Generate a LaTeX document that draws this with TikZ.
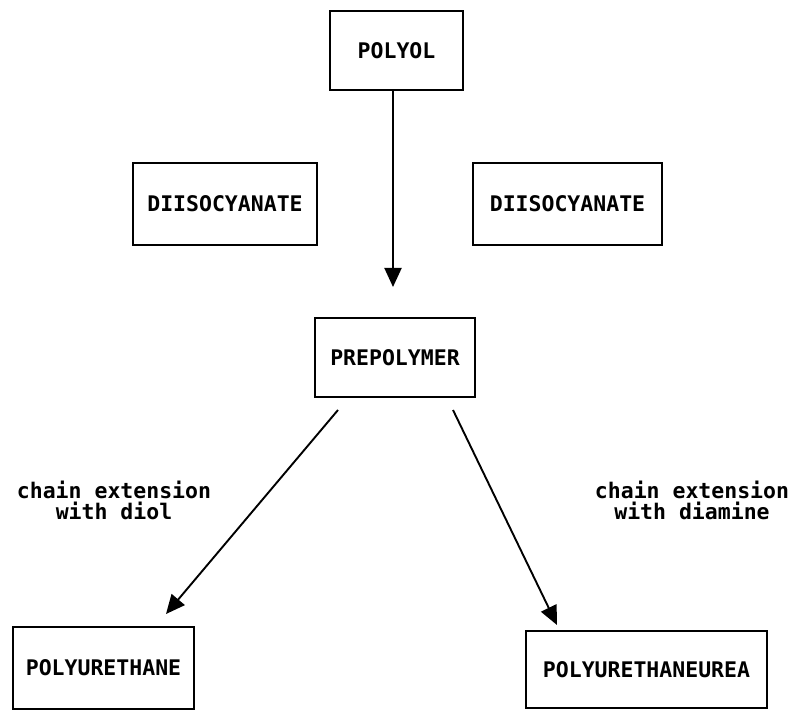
\documentclass[tikz,border=0pt]{standalone}
\usepackage{fontspec}
\setmonofont{DejaVu Sans Mono}
\usetikzlibrary{arrows.meta}
\tikzset{
  txt/.style={font=\ttfamily\bfseries\fontsize{21.5}{20.5}\selectfont},
  boxnode/.style={txt, draw, line width=2.9pt, inner sep=0pt},
  conn/.style={line width=1.9pt, -{Triangle[length=19pt,width=17pt]}},
  lbl/.style={txt, align=center, inner sep=0pt, anchor=north}
}
\begin{document}
\begin{tikzpicture}[x=1pt,y=-1pt]
\useasboundingbox (0,0) rectangle (801,711);
\node[boxnode, minimum width=133pt, minimum height=79pt] (polyol) at (396.5,50.5) {POLYOL};
\node[boxnode, minimum width=184pt, minimum height=82pt] (diisoL) at (225,204) {DIISOCYANATE};
\node[boxnode, minimum width=189pt, minimum height=82pt] (diisoR) at (567.5,204) {DIISOCYANATE};
\node[boxnode, minimum width=160pt, minimum height=79pt] (prepoly) at (395,357.5) {PREPOLYMER};
\node[boxnode, minimum width=181pt, minimum height=82pt] (pu) at (103.5,668) {POLYURETHANE};
\node[boxnode, minimum width=241pt, minimum height=77pt] (puu) at (646.5,669.5) {POLYURETHANEUREA};
\node[lbl] (lblL) at (114,481) {chain extension\\with diol};
\node[lbl] (lblR) at (692,481) {chain extension\\with diamine};
\coordinate (vtip) at (393,287);
\coordinate (lstart) at (338,410);
\coordinate (ltip) at (166,614);
\coordinate (rstart) at (453,410);
\coordinate (rtip) at (557,625);
\draw[conn] (polyol.south -| vtip) -- (vtip);
\draw[conn] (lstart) -- (ltip);
\draw[conn] (rstart) -- (rtip);
\end{tikzpicture}
\end{document}
